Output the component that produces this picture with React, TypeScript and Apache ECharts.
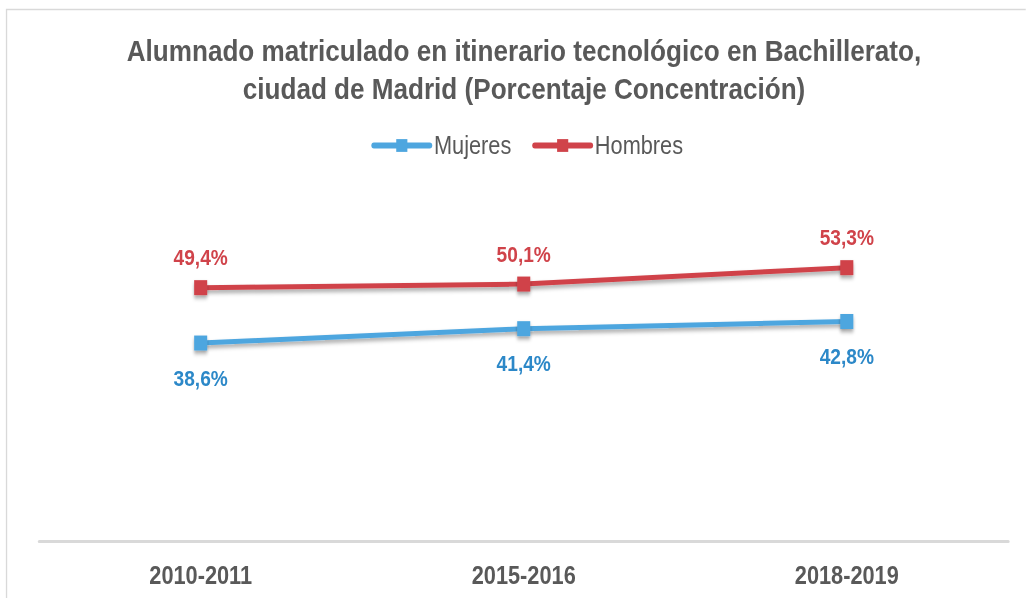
import React, { useEffect, useRef } from "react";
import * as echarts from "echarts";

const titleLines = [
  "Alumnado matriculado en itinerario tecnológico en Bachillerato,",
  "ciudad de Madrid (Porcentaje Concentración)",
];
const categories = ["2010-2011", "2015-2016", "2018-2019"];
const mujeres = [38.6, 41.4, 42.8];
const hombres = [49.4, 50.1, 53.3];

const FONT = "'Liberation Sans', Arial, sans-serif";
const SX = 0.87;
const W = Math.round(1026 / SX);
const fmt = (v: number) => v.toFixed(1).replace(".", ",") + "%";

export default function App() {
  const ref = useRef<HTMLDivElement>(null);
  useEffect(() => {
    if (!ref.current) return;
    const chart = echarts.init(ref.current, null, { renderer: "svg" });
    const shadow = { shadowColor: "rgba(0,0,0,0.35)", shadowBlur: 4, shadowOffsetY: 3 };
    const mkSeries = (name: string, data: number[], line: string, lab: string, pos: "top" | "bottom") => ({
      name,
      type: "line",
      data,
      symbol: "rect",
      symbolSize: 15,
      lineStyle: { color: line, width: 5, ...shadow },
      itemStyle: { color: line, ...shadow },
      label: {
        show: true,
        position: pos,
        distance: pos === "top" ? 12 : 16,
        formatter: (p: any) => fmt(p.value),
        color: lab,
        fontFamily: FONT,
        fontWeight: "bold",
        fontSize: 22,
      },
    });
    chart.setOption({
      animation: false,
      backgroundColor: "#fff",
      graphic: [
        {
          type: "rect",
          shape: { x: 7.5, y: 9.5, width: 1300, height: 620 },
          style: { fill: "none", stroke: "#D9D9D9", lineWidth: 1.5 },
          silent: true,
        },
        {
          type: "text",
          x: 524 / SX,
          y: 32,
          style: {
            text: titleLines.join("\n"),
            font: `bold 30px ${FONT}`,
            fill: "#595959",
            textAlign: "center",
            textVerticalAlign: "top",
            lineHeight: 38,
          },
        },
      ],
      legend: {
        top: 128,
        left: 367 / SX,
        itemWidth: 64,
        itemHeight: 16,
        itemGap: 24,
        lineStyle: { width: 6, cap: "round" },
        textStyle: { fontFamily: FONT, fontSize: 25, color: "#595959" },
        data: ["Mujeres", "Hombres"],
      },
      grid: { left: 45, right: 20, top: 182, bottom: 57, containLabel: false },
      xAxis: {
        type: "category",
        data: categories,
        axisLine: { lineStyle: { color: "#D9D9D9", width: 3 } },
        axisTick: { show: false },
        axisLabel: { color: "#595959", fontFamily: FONT, fontWeight: "bold", fontSize: 25, margin: 22 },
      },
      yAxis: { type: "value", min: 0, max: 70, show: false, splitLine: { show: false } },
      series: [
        mkSeries("Mujeres", mujeres, "#4EA6DF", "#2C88C8", "bottom"),
        mkSeries("Hombres", hombres, "#D0434A", "#D0434A", "top"),
      ],
    });
    return () => chart.dispose();
  }, []);
  return (
    <div style={{ width: 1026, height: 598, position: "absolute", left: 0, top: 0, overflow: "hidden" }}>
      <div
        ref={ref}
        style={{ width: W, height: 598, transform: `scaleX(${SX})`, transformOrigin: "0 0" }}
      />
    </div>
  );
}
